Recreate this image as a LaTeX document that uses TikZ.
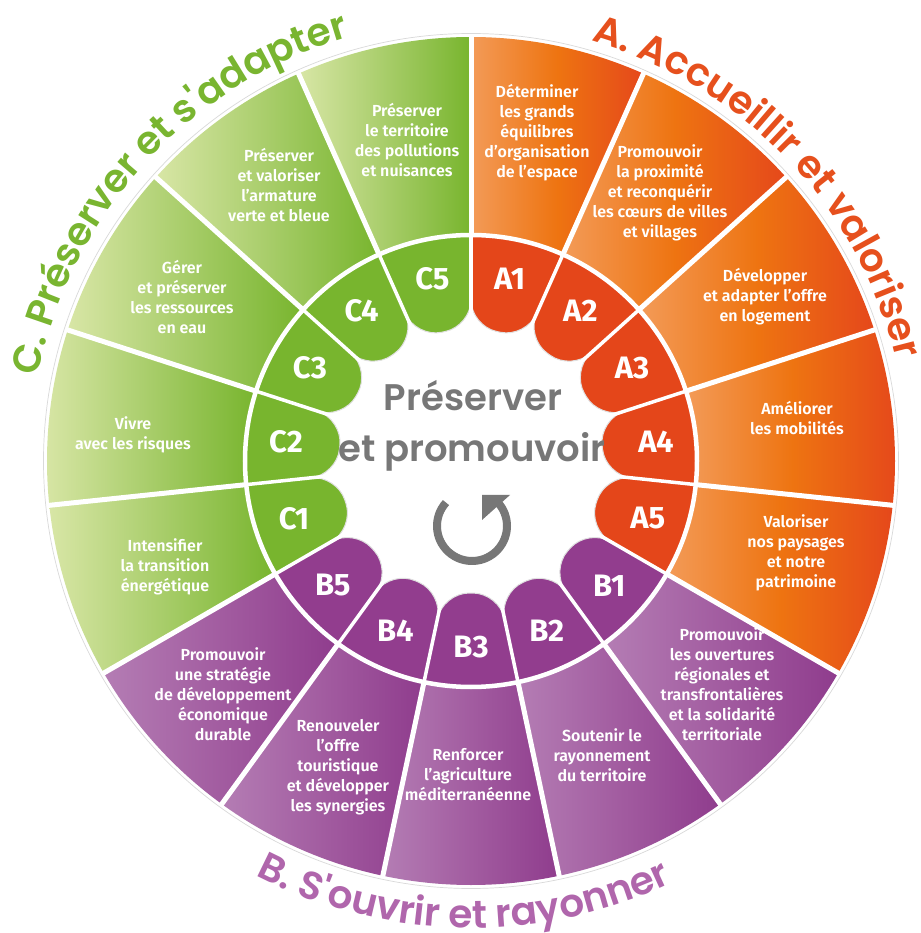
\documentclass[tikz,border=0pt]{standalone}
\usepackage{fontspec}
\newfontfamily\labfont{Fira Sans}[BoldFont={* SemiBold}]
\newfontfamily\tabfont{Fira Sans}
\newfontfamily\titfont{Poppins}[BoldFont={* SemiBold}]
\usetikzlibrary{decorations.text}
\definecolor{AL}{HTML}{F39B58}
\definecolor{AM}{HTML}{EE7411}
\definecolor{AR}{HTML}{E5481B}
\definecolor{Atab}{HTML}{E4461A}
\definecolor{Atit}{HTML}{E6501D}
\definecolor{BL}{HTML}{B47DB4}
\definecolor{BM}{HTML}{A25CA0}
\definecolor{BR}{HTML}{8F3C8D}
\definecolor{Btab}{HTML}{923D8E}
\definecolor{Btit}{HTML}{B066AC}
\definecolor{CL}{HTML}{D8E6A6}
\definecolor{CM}{HTML}{A8CD6A}
\definecolor{CR}{HTML}{78B52E}
\definecolor{Ctab}{HTML}{78B52E}
\definecolor{Ctit}{HTML}{79B530}
\definecolor{midgray}{HTML}{777777}
\tikzset{
  sectA/.style={left color=AL, right color=AR, middle color=AM},
  sectB/.style={left color=BL, right color=BR, middle color=BM},
  sectC/.style={left color=CL, right color=CR, middle color=CM},
  tabshape/.style={draw=black!12, line width=1pt, rounded corners=26pt},
  tabA/.style={tabshape, fill=Atab},
  tabB/.style={tabshape, fill=Btab},
  tabC/.style={tabshape, fill=Ctab},
  sepout/.style={white, line width=5pt},
  sepin/.style={white, line width=3.5pt},
  ring/.style={white, line width=4.5pt},
  rim/.style={black!15, line width=0.7pt},
  lab/.style={text=white, align=center, inner sep=0pt, font=\labfont\bfseries\fontsize{16}{20}\selectfont},
  tablab/.style={text=white, inner sep=0pt, font=\tabfont\bfseries\fontsize{31}{31}\selectfont},
  ctr/.style={text=midgray, inner sep=0pt, anchor=base, font=\titfont\bfseries\fontsize{37}{37}\selectfont},
}
\begin{document}
\begin{tikzpicture}[x=1pt,y=1pt]
\useasboundingbox (-471,-472) rectangle (449,461);
\fill[white] (-471,-472) rectangle (449,461);
% outer sectors
\foreach \k in {0,...,4}{
  \pgfmathsetmacro\angA{90-24*\k}\pgfmathsetmacro\angB{66-24*\k}
  \shade[sectA] (\angA:226) -- (\angA:424) arc[start angle=\angA, end angle=\angB, radius=424] -- (\angB:226) arc[start angle=\angB, end angle=\angA, radius=226] -- cycle;
}
\foreach \k in {5,...,9}{
  \pgfmathsetmacro\angA{90-24*\k}\pgfmathsetmacro\angB{66-24*\k}
  \shade[sectB] (\angA:226) -- (\angA:424) arc[start angle=\angA, end angle=\angB, radius=424] -- (\angB:226) arc[start angle=\angB, end angle=\angA, radius=226] -- cycle;
}
\foreach \k in {10,...,14}{
  \pgfmathsetmacro\angA{90-24*\k}\pgfmathsetmacro\angB{66-24*\k}
  \shade[sectC] (\angA:226) -- (\angA:424) arc[start angle=\angA, end angle=\angB, radius=424] -- (\angB:226) arc[start angle=\angB, end angle=\angA, radius=226] -- cycle;
}
% tabs
\begin{scope}
  \clip (0,0) circle[radius=226];
  \foreach \k in {0,...,4}{
    \pgfmathsetmacro\angA{90-24*\k}\pgfmathsetmacro\angB{66-24*\k}
    \path[tabA] (\angA:135) -- (\angA:330) -- (\angB:330) -- (\angB:135) -- cycle;
  }
  \foreach \k in {5,...,9}{
    \pgfmathsetmacro\angA{90-24*\k}\pgfmathsetmacro\angB{66-24*\k}
    \path[tabB] (\angA:135) -- (\angA:330) -- (\angB:330) -- (\angB:135) -- cycle;
  }
  \foreach \k in {10,...,14}{
    \pgfmathsetmacro\angA{90-24*\k}\pgfmathsetmacro\angB{66-24*\k}
    \path[tabC] (\angA:135) -- (\angA:330) -- (\angB:330) -- (\angB:135) -- cycle;
  }
\end{scope}
% separators
\foreach \k in {0,...,14}{
  \pgfmathsetmacro\angA{90-24*\k}
  \draw[sepin] (\angA:110) -- (\angA:226);
  \draw[sepout] (\angA:226) -- (\angA:425);
}
\draw[ring] (0,0) circle[radius=226];
\draw[rim] (0,0) circle[radius=427.5];
% tab labels
\foreach \k/\t in {0/A1,1/A2,2/A3,3/A4,4/A5,5/B1,6/B2,7/B3,8/B4,9/B5,10/C1,11/C2,12/C3,13/C4,14/C5}{
  \pgfmathsetmacro\angM{78-24*\k}
  \node[tablab] (tab\t) at (\angM:186) {\t};
}
% sector labels
\node[lab] (lA1) at (66,328) {Déterminer\\les grands\\équilibres\\d’organisation\\de l’espace};
\node[lab] (lA2) at (189,268) {Promouvoir\\la proximité\\et reconquérir\\les cœurs de villes\\et villages};
\node[lab] (lA3) at (294,164) {Développer\\et adapter l’offre\\en logement};
\node[lab] (lA4) at (326,43) {Améliorer\\les mobilités};
\node[lab] (lA5) at (325,-92) {Valoriser\\nos paysages\\et notre\\patrimoine};
\node[lab] (lB1) at (251,-223) {Promouvoir\\les ouvertures\\régionales et\\transfrontalières\\et la solidarité\\territoriale};
\node[lab] (lB2) at (131,-294) {Soutenir le\\rayonnement\\du territoire};
\node[lab] (lB3) at (-3,-314) {Renforcer\\l’agriculture\\méditerranéenne};
\node[lab] (lB4) at (-133,-306) {Renouveler\\l’offre\\touristique\\et développer\\les synergies};
\node[lab] (lB5) at (-248,-233) {Promouvoir\\une stratégie\\de développement\\économique\\durable};
\node[lab] (lC1) at (-306,-106) {Intensifier\\la transition\\énergétique};
\node[lab] (lC2) at (-338,26) {Vivre\\avec les risques};
\node[lab] (lC3) at (-289,164) {Gérer\\et préserver\\les ressources\\en eau};
\node[lab] (lC4) at (-192,276) {Préserver\\et valoriser\\l’armature\\verte et bleue};
\node[lab] (lC5) at (-64,321) {Préserver\\le territoire\\des pollutions\\et nuisances};
% centre
\node[ctr] (ctr1) at (2,50) {Préserver};
\node[ctr] (ctr2) at (1,-1) {et promouvoir};
\draw[midgray, line width=8pt] (1,-65) ++(138:35) arc[start angle=138, end angle=402, radius=35];
\fill[midgray] (11,-34) -- (39,-34) -- (11,-59) -- cycle;
% titles
\path[decorate, decoration={text along path, text align=center,
  text={|\titfont\bfseries\fontsize{39}{39}\selectfont\color{Atit}|A. Accueillir et valoriser}}]
  (103.75:437) arc[start angle=103.75, end angle=-16.25, radius=437];
\path[decorate, decoration={text along path, text align=center,
  text={|\titfont\bfseries\fontsize{39}{39}\selectfont\color{Ctit}|C. Préserver et s'adapter}}]
  (197.5:441) arc[start angle=197.5, end angle=77.5, radius=441];
\path[decorate, decoration={text along path, text align=center,
  text={|\titfont\bfseries\fontsize{39}{39}\selectfont\color{Btit}|B. S'ouvrir et rayonner}}]
  (-151:467) arc[start angle=-151, end angle=-31, radius=467];
\end{tikzpicture}
\end{document}
